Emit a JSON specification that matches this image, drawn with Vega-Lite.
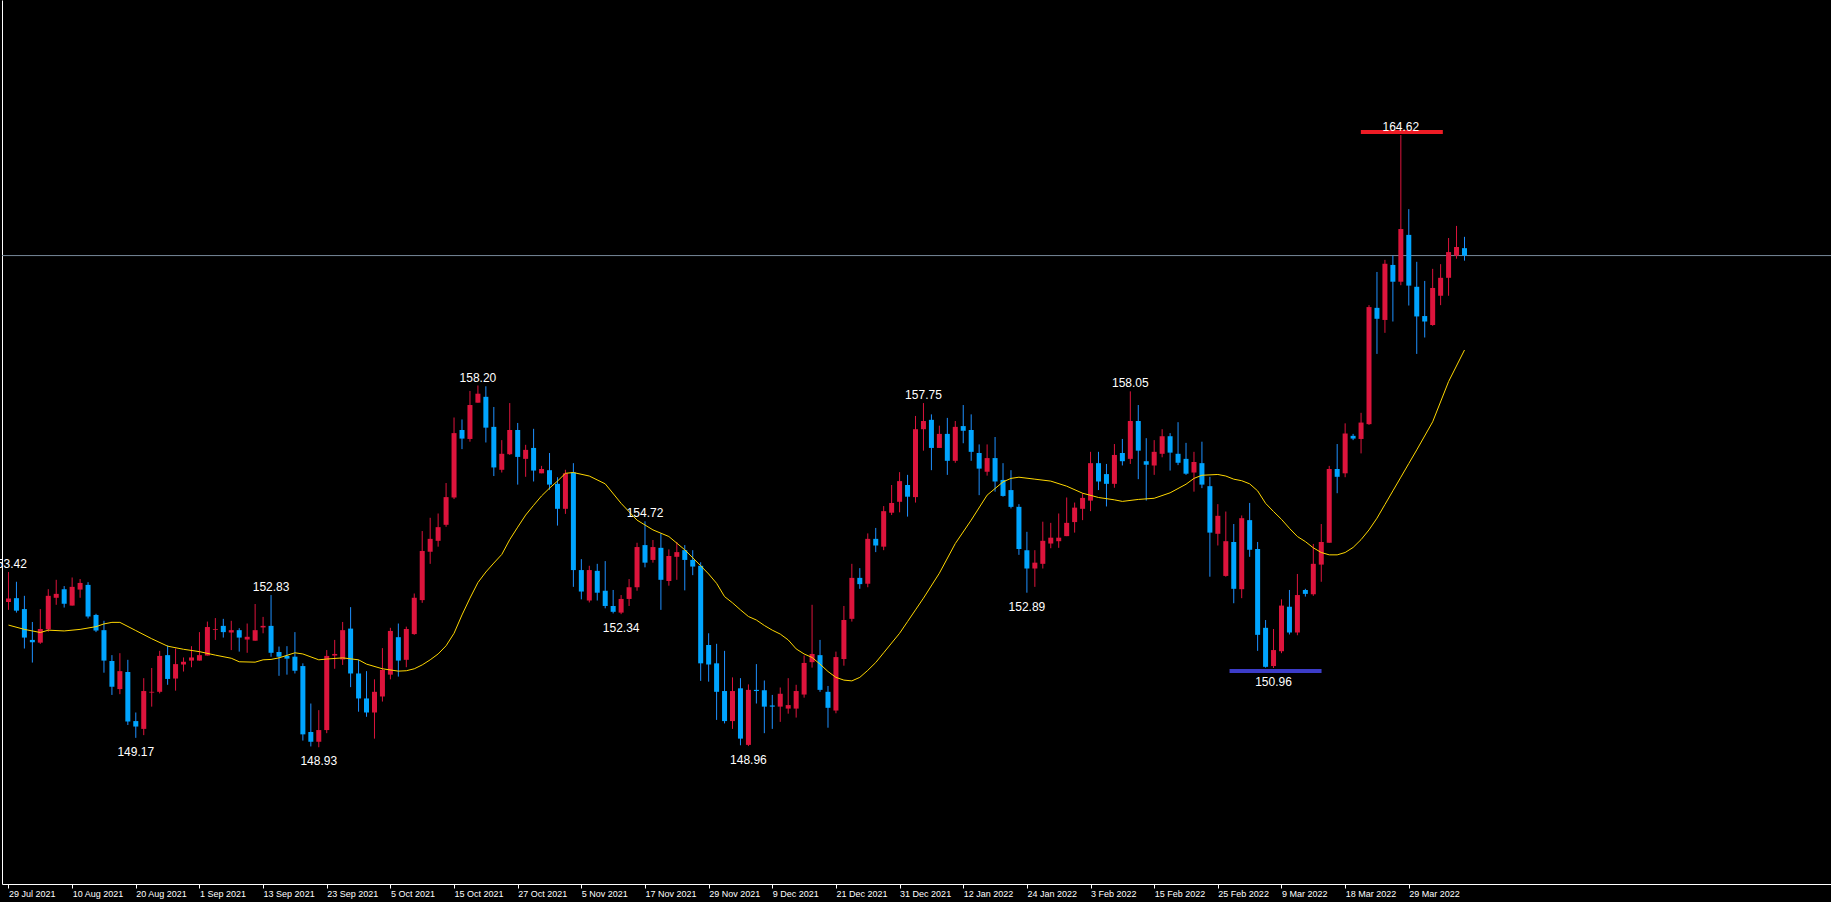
{
"$schema": "https://vega.github.io/schema/vega-lite/v6.json",
"width": 1829, "height": 884, "autosize": {"type": "none"},
"padding": {"left": 2, "top": 0, "right": 0, "bottom": 18},
"background": "#000000",
"config": {"view": {"stroke": null}},
"datasets": {
"candles": [
{"i":0,"o":152.65,"h":153.42,"l":152.45,"c":152.74},
{"i":1,"o":152.75,"h":153.17,"l":152.38,"c":152.43},
{"i":2,"o":152.47,"h":152.81,"l":151.46,"c":151.74},
{"i":3,"o":151.68,"h":152.14,"l":151.10,"c":151.62},
{"i":4,"o":151.61,"h":152.47,"l":151.58,"c":151.96},
{"i":5,"o":151.95,"h":152.98,"l":151.89,"c":152.81},
{"i":6,"o":152.76,"h":153.22,"l":152.58,"c":152.86},
{"i":7,"o":152.98,"h":153.06,"l":152.51,"c":152.61},
{"i":8,"o":152.56,"h":153.28,"l":152.56,"c":153.04},
{"i":9,"o":152.97,"h":153.24,"l":152.76,"c":153.14},
{"i":10,"o":153.09,"h":153.16,"l":152.23,"c":152.28},
{"i":11,"o":152.32,"h":152.35,"l":151.88,"c":151.92},
{"i":12,"o":151.93,"h":152.17,"l":150.84,"c":151.15},
{"i":13,"o":151.14,"h":151.29,"l":150.27,"c":150.48},
{"i":14,"o":150.42,"h":151.34,"l":150.29,"c":150.88},
{"i":15,"o":150.86,"h":151.17,"l":149.50,"c":149.59},
{"i":16,"o":149.60,"h":149.82,"l":149.17,"c":149.46},
{"i":17,"o":149.40,"h":150.70,"l":149.24,"c":150.37},
{"i":18,"o":150.33,"h":150.96,"l":149.97,"c":150.35},
{"i":19,"o":150.35,"h":151.40,"l":150.31,"c":151.27},
{"i":20,"o":151.29,"h":151.54,"l":150.53,"c":150.68},
{"i":21,"o":150.69,"h":151.46,"l":150.38,"c":151.06},
{"i":22,"o":151.05,"h":151.23,"l":150.87,"c":151.12},
{"i":23,"o":151.15,"h":151.52,"l":150.98,"c":151.23},
{"i":24,"o":151.15,"h":151.88,"l":151.15,"c":151.29},
{"i":25,"o":151.28,"h":152.15,"l":151.28,"c":152.01},
{"i":26,"o":151.94,"h":152.24,"l":151.68,"c":151.96},
{"i":27,"o":152.04,"h":152.22,"l":151.74,"c":151.88},
{"i":28,"o":151.87,"h":152.17,"l":151.42,"c":151.93},
{"i":29,"o":151.93,"h":151.98,"l":151.38,"c":151.74},
{"i":30,"o":151.69,"h":152.10,"l":151.35,"c":151.76},
{"i":31,"o":151.66,"h":152.60,"l":151.66,"c":151.93},
{"i":32,"o":152.00,"h":152.27,"l":151.85,"c":152.04},
{"i":33,"o":152.04,"h":152.83,"l":151.25,"c":151.35},
{"i":34,"o":151.37,"h":151.51,"l":150.76,"c":151.25},
{"i":35,"o":151.27,"h":151.52,"l":150.79,"c":151.20},
{"i":36,"o":151.25,"h":151.88,"l":150.82,"c":150.89},
{"i":37,"o":151.01,"h":151.08,"l":149.10,"c":149.26},
{"i":38,"o":149.32,"h":150.05,"l":148.95,"c":149.07},
{"i":39,"o":149.07,"h":149.88,"l":148.93,"c":149.37},
{"i":40,"o":149.37,"h":151.42,"l":149.29,"c":151.27},
{"i":41,"o":151.28,"h":151.68,"l":150.94,"c":151.32},
{"i":42,"o":151.18,"h":152.14,"l":151.04,"c":151.93},
{"i":43,"o":151.97,"h":152.52,"l":150.47,"c":150.82},
{"i":44,"o":150.82,"h":151.17,"l":149.84,"c":150.18},
{"i":45,"o":150.18,"h":150.88,"l":149.71,"c":149.82},
{"i":46,"o":149.82,"h":150.67,"l":149.15,"c":150.35},
{"i":47,"o":150.23,"h":151.47,"l":150.10,"c":150.91},
{"i":48,"o":150.79,"h":151.99,"l":150.67,"c":151.91},
{"i":49,"o":151.75,"h":152.10,"l":150.74,"c":151.15},
{"i":50,"o":151.17,"h":152.02,"l":150.98,"c":151.96},
{"i":51,"o":151.83,"h":152.87,"l":151.81,"c":152.76},
{"i":52,"o":152.70,"h":154.47,"l":152.63,"c":153.96},
{"i":53,"o":153.94,"h":154.81,"l":153.63,"c":154.27},
{"i":54,"o":154.22,"h":154.92,"l":154.07,"c":154.57},
{"i":55,"o":154.63,"h":155.70,"l":154.58,"c":155.34},
{"i":56,"o":155.33,"h":157.38,"l":155.29,"c":156.98},
{"i":57,"o":157.06,"h":157.33,"l":156.57,"c":156.84},
{"i":58,"o":156.83,"h":158.06,"l":156.76,"c":157.70},
{"i":59,"o":157.76,"h":158.20,"l":157.76,"c":157.99},
{"i":60,"o":157.91,"h":158.18,"l":156.74,"c":157.12},
{"i":61,"o":157.14,"h":157.65,"l":155.88,"c":156.10},
{"i":62,"o":156.04,"h":156.80,"l":155.97,"c":156.45},
{"i":63,"o":156.44,"h":157.75,"l":156.42,"c":157.06},
{"i":64,"o":157.06,"h":157.24,"l":155.66,"c":156.37},
{"i":65,"o":156.32,"h":156.68,"l":155.86,"c":156.55},
{"i":66,"o":156.60,"h":157.09,"l":155.74,"c":156.02},
{"i":67,"o":155.95,"h":156.14,"l":155.95,"c":156.06},
{"i":68,"o":156.03,"h":156.47,"l":155.53,"c":155.66},
{"i":69,"o":155.68,"h":155.85,"l":154.61,"c":155.04},
{"i":70,"o":155.04,"h":156.04,"l":154.91,"c":155.95},
{"i":71,"o":155.97,"h":156.21,"l":153.04,"c":153.47},
{"i":72,"o":153.47,"h":153.75,"l":152.72,"c":152.92},
{"i":73,"o":152.69,"h":153.58,"l":152.64,"c":153.47},
{"i":74,"o":153.45,"h":153.63,"l":152.69,"c":152.89},
{"i":75,"o":152.94,"h":153.70,"l":152.49,"c":152.55},
{"i":76,"o":152.55,"h":152.96,"l":152.36,"c":152.40},
{"i":77,"o":152.38,"h":152.83,"l":152.34,"c":152.73},
{"i":78,"o":152.73,"h":153.24,"l":152.55,"c":153.03},
{"i":79,"o":153.03,"h":154.17,"l":152.94,"c":154.06},
{"i":80,"o":154.11,"h":154.72,"l":153.54,"c":153.66},
{"i":81,"o":153.73,"h":154.24,"l":153.66,"c":154.06},
{"i":82,"o":154.04,"h":154.41,"l":152.45,"c":153.22},
{"i":83,"o":153.19,"h":154.00,"l":153.07,"c":153.83},
{"i":84,"o":153.81,"h":154.19,"l":153.22,"c":153.93},
{"i":85,"o":153.98,"h":154.11,"l":152.95,"c":153.73},
{"i":86,"o":153.73,"h":153.98,"l":153.34,"c":153.56},
{"i":87,"o":153.58,"h":153.67,"l":150.63,"c":151.08},
{"i":88,"o":151.55,"h":151.85,"l":150.61,"c":151.05},
{"i":89,"o":151.08,"h":151.58,"l":149.63,"c":150.35},
{"i":90,"o":150.37,"h":151.40,"l":149.54,"c":149.60},
{"i":91,"o":149.60,"h":150.72,"l":149.40,"c":150.37},
{"i":92,"o":150.44,"h":150.70,"l":148.98,"c":149.15},
{"i":93,"o":148.99,"h":150.54,"l":148.96,"c":150.40},
{"i":94,"o":150.40,"h":151.06,"l":150.05,"c":150.37},
{"i":95,"o":150.39,"h":150.64,"l":149.29,"c":149.97},
{"i":96,"o":150.00,"h":150.27,"l":149.40,"c":149.97},
{"i":97,"o":149.97,"h":150.46,"l":149.58,"c":150.30},
{"i":98,"o":149.92,"h":150.70,"l":149.79,"c":150.01},
{"i":99,"o":149.92,"h":150.53,"l":149.69,"c":150.37},
{"i":100,"o":150.28,"h":151.28,"l":150.20,"c":151.09},
{"i":101,"o":151.11,"h":152.58,"l":150.97,"c":151.32},
{"i":102,"o":151.29,"h":151.68,"l":150.35,"c":150.40},
{"i":103,"o":150.35,"h":150.50,"l":149.43,"c":149.94},
{"i":104,"o":149.87,"h":151.38,"l":149.80,"c":151.24},
{"i":105,"o":151.19,"h":152.55,"l":151.02,"c":152.19},
{"i":106,"o":152.22,"h":153.63,"l":152.15,"c":153.27},
{"i":107,"o":153.27,"h":153.52,"l":152.99,"c":153.11},
{"i":108,"o":153.12,"h":154.41,"l":153.03,"c":154.27},
{"i":109,"o":154.27,"h":154.55,"l":153.93,"c":154.10},
{"i":110,"o":154.07,"h":155.11,"l":153.98,"c":154.98},
{"i":111,"o":154.94,"h":155.65,"l":154.88,"c":155.19},
{"i":112,"o":155.22,"h":155.98,"l":154.95,"c":155.75},
{"i":113,"o":155.65,"h":155.91,"l":154.84,"c":155.35},
{"i":114,"o":155.34,"h":157.42,"l":155.20,"c":157.08},
{"i":115,"o":157.08,"h":157.75,"l":156.53,"c":157.29},
{"i":116,"o":157.32,"h":157.46,"l":156.03,"c":156.60},
{"i":117,"o":156.60,"h":157.17,"l":156.60,"c":156.96},
{"i":118,"o":156.96,"h":157.37,"l":155.91,"c":156.27},
{"i":119,"o":156.27,"h":157.29,"l":156.22,"c":157.14},
{"i":120,"o":157.16,"h":157.70,"l":156.72,"c":157.04},
{"i":121,"o":157.06,"h":157.46,"l":156.27,"c":156.50},
{"i":122,"o":156.47,"h":156.69,"l":155.39,"c":156.07},
{"i":123,"o":155.99,"h":156.69,"l":155.89,"c":156.34},
{"i":124,"o":156.34,"h":156.88,"l":155.48,"c":155.74},
{"i":125,"o":155.78,"h":156.21,"l":155.35,"c":155.37},
{"i":126,"o":155.52,"h":156.03,"l":155.05,"c":155.09},
{"i":127,"o":155.09,"h":155.16,"l":153.86,"c":154.01},
{"i":128,"o":153.98,"h":154.45,"l":152.89,"c":153.51},
{"i":129,"o":153.51,"h":153.98,"l":153.04,"c":153.66},
{"i":130,"o":153.63,"h":154.71,"l":153.51,"c":154.22},
{"i":131,"o":154.15,"h":154.68,"l":154.03,"c":154.30},
{"i":132,"o":154.21,"h":154.92,"l":154.04,"c":154.30},
{"i":133,"o":154.34,"h":155.33,"l":154.34,"c":154.68},
{"i":134,"o":154.70,"h":155.20,"l":154.43,"c":155.07},
{"i":135,"o":155.04,"h":155.44,"l":154.75,"c":155.32},
{"i":136,"o":155.25,"h":156.50,"l":154.98,"c":156.21},
{"i":137,"o":156.21,"h":156.50,"l":155.52,"c":155.74},
{"i":138,"o":155.93,"h":156.19,"l":155.10,"c":155.68},
{"i":139,"o":155.68,"h":156.70,"l":155.58,"c":156.42},
{"i":140,"o":156.47,"h":156.83,"l":156.15,"c":156.26},
{"i":141,"o":156.32,"h":158.05,"l":156.19,"c":157.29},
{"i":142,"o":157.29,"h":157.70,"l":155.80,"c":156.53},
{"i":143,"o":156.26,"h":156.85,"l":155.25,"c":156.17},
{"i":144,"o":156.15,"h":156.80,"l":155.91,"c":156.50},
{"i":145,"o":156.45,"h":157.08,"l":156.36,"c":156.90},
{"i":146,"o":156.90,"h":156.98,"l":156.02,"c":156.48},
{"i":147,"o":156.45,"h":157.26,"l":156.16,"c":156.22},
{"i":148,"o":156.32,"h":156.73,"l":155.91,"c":155.94},
{"i":149,"o":155.97,"h":156.50,"l":155.48,"c":156.24},
{"i":150,"o":156.21,"h":156.76,"l":155.57,"c":155.66},
{"i":151,"o":155.62,"h":155.86,"l":153.30,"c":154.43},
{"i":152,"o":154.40,"h":155.16,"l":154.10,"c":154.86},
{"i":153,"o":153.32,"h":154.97,"l":153.30,"c":154.21},
{"i":154,"o":154.19,"h":154.65,"l":152.62,"c":152.99},
{"i":155,"o":152.98,"h":154.87,"l":152.75,"c":154.80},
{"i":156,"o":154.75,"h":155.19,"l":153.81,"c":153.99},
{"i":157,"o":154.01,"h":154.19,"l":151.40,"c":151.81},
{"i":158,"o":151.99,"h":152.19,"l":150.97,"c":150.99},
{"i":159,"o":151.01,"h":151.96,"l":150.96,"c":151.42},
{"i":160,"o":151.39,"h":152.72,"l":151.34,"c":152.56},
{"i":161,"o":152.53,"h":152.96,"l":151.82,"c":151.87},
{"i":162,"o":151.87,"h":153.37,"l":151.80,"c":152.83},
{"i":163,"o":152.96,"h":152.99,"l":152.79,"c":152.86},
{"i":164,"o":152.85,"h":154.14,"l":152.81,"c":153.63},
{"i":165,"o":153.61,"h":154.65,"l":153.17,"c":154.19},
{"i":166,"o":154.17,"h":156.14,"l":154.17,"c":156.06},
{"i":167,"o":156.06,"h":156.70,"l":155.44,"c":155.86},
{"i":168,"o":155.95,"h":157.23,"l":155.85,"c":156.97},
{"i":169,"o":156.91,"h":156.96,"l":156.80,"c":156.84},
{"i":170,"o":156.83,"h":157.50,"l":156.46,"c":157.25},
{"i":171,"o":157.21,"h":160.26,"l":157.19,"c":160.21},
{"i":172,"o":160.19,"h":161.11,"l":159.01,"c":159.91},
{"i":173,"o":159.88,"h":161.42,"l":159.55,"c":161.32},
{"i":174,"o":161.29,"h":161.53,"l":159.84,"c":160.86},
{"i":175,"o":160.86,"h":164.62,"l":160.77,"c":162.21},
{"i":176,"o":162.06,"h":162.72,"l":160.25,"c":160.76},
{"i":177,"o":160.73,"h":161.37,"l":159.01,"c":159.97},
{"i":178,"o":159.98,"h":160.88,"l":159.43,"c":159.84},
{"i":179,"o":159.75,"h":161.19,"l":159.73,"c":160.70},
{"i":180,"o":160.50,"h":161.31,"l":160.26,"c":160.96},
{"i":181,"o":160.96,"h":161.98,"l":160.50,"c":161.62},
{"i":182,"o":161.53,"h":162.29,"l":161.45,"c":161.75},
{"i":183,"o":161.72,"h":162.01,"l":161.40,"c":161.53}
],
"ma": [
{"i":0,"v":152.06},{"i":2,"v":151.95},{"i":4,"v":151.87},{"i":5,"v":151.93},{"i":7,"v":151.91},{"i":9,"v":151.95},{"i":11,"v":152.02},{"i":12,"v":152.09},{"i":13,"v":152.13},{"i":14,"v":152.13},{"i":16,"v":151.92},{"i":18,"v":151.71},{"i":20,"v":151.52},{"i":22,"v":151.44},{"i":24,"v":151.38},{"i":26,"v":151.29},{"i":28,"v":151.21},{"i":29,"v":151.12},{"i":31,"v":151.11},{"i":32,"v":151.17},{"i":33,"v":151.18},{"i":34,"v":151.22},{"i":36,"v":151.35},{"i":37,"v":151.32},{"i":39,"v":151.17},{"i":40,"v":151.19},{"i":42,"v":151.22},{"i":44,"v":151.17},{"i":45,"v":151.06},{"i":47,"v":150.94},{"i":49,"v":150.88},{"i":50,"v":150.89},{"i":51,"v":150.94},{"i":52,"v":151.04},{"i":53,"v":151.17},{"i":54,"v":151.32},{"i":55,"v":151.53},{"i":56,"v":151.85},{"i":57,"v":152.32},{"i":58,"v":152.75},{"i":59,"v":153.15},{"i":60,"v":153.42},{"i":61,"v":153.65},{"i":62,"v":153.87},{"i":63,"v":154.25},{"i":64,"v":154.57},{"i":65,"v":154.88},{"i":66,"v":155.13},{"i":67,"v":155.37},{"i":68,"v":155.57},{"i":69,"v":155.75},{"i":70,"v":155.95},{"i":71,"v":155.97},{"i":73,"v":155.88},{"i":75,"v":155.68},{"i":77,"v":155.18},{"i":79,"v":154.75},{"i":81,"v":154.50},{"i":83,"v":154.33},{"i":85,"v":153.99},{"i":87,"v":153.58},{"i":88,"v":153.37},{"i":89,"v":153.13},{"i":90,"v":152.79},{"i":91,"v":152.63},{"i":92,"v":152.45},{"i":93,"v":152.28},{"i":94,"v":152.19},{"i":95,"v":152.05},{"i":96,"v":151.93},{"i":97,"v":151.83},{"i":98,"v":151.68},{"i":99,"v":151.45},{"i":100,"v":151.32},{"i":101,"v":151.23},{"i":102,"v":151.06},{"i":103,"v":150.87},{"i":104,"v":150.72},{"i":105,"v":150.65},{"i":106,"v":150.63},{"i":107,"v":150.72},{"i":108,"v":150.90},{"i":109,"v":151.10},{"i":110,"v":151.35},{"i":111,"v":151.60},{"i":112,"v":151.85},{"i":113,"v":152.15},{"i":114,"v":152.45},{"i":115,"v":152.75},{"i":117,"v":153.39},{"i":119,"v":154.15},{"i":121,"v":154.75},{"i":123,"v":155.39},{"i":124,"v":155.56},{"i":125,"v":155.73},{"i":126,"v":155.82},{"i":127,"v":155.85},{"i":129,"v":155.80},{"i":131,"v":155.75},{"i":133,"v":155.62},{"i":135,"v":155.44},{"i":137,"v":155.33},{"i":139,"v":155.27},{"i":140,"v":155.23},{"i":142,"v":155.28},{"i":144,"v":155.31},{"i":146,"v":155.45},{"i":148,"v":155.67},{"i":149,"v":155.82},{"i":150,"v":155.90},{"i":152,"v":155.92},{"i":153,"v":155.88},{"i":154,"v":155.80},{"i":155,"v":155.76},{"i":156,"v":155.68},{"i":157,"v":155.50},{"i":158,"v":155.18},{"i":159,"v":154.97},{"i":160,"v":154.77},{"i":161,"v":154.54},{"i":162,"v":154.33},{"i":163,"v":154.20},{"i":164,"v":154.04},{"i":165,"v":153.92},{"i":166,"v":153.86},{"i":167,"v":153.86},{"i":168,"v":153.92},{"i":169,"v":154.05},{"i":170,"v":154.25},{"i":171,"v":154.50},{"i":172,"v":154.80},{"i":173,"v":155.15},{"i":174,"v":155.50},{"i":175,"v":155.85},{"i":176,"v":156.20},{"i":177,"v":156.55},{"i":179,"v":157.27},{"i":181,"v":158.30},{"i":183,"v":159.11}
],
"labels": [
{"i":0,"v":153.42,"k":"high","t":"153.42"},
{"i":33,"v":152.83,"k":"high","t":"152.83"},
{"i":59,"v":158.20,"k":"high","t":"158.20"},
{"i":80,"v":154.72,"k":"high","t":"154.72"},
{"i":115,"v":157.75,"k":"high","t":"157.75"},
{"i":141,"v":158.05,"k":"high","t":"158.05"},
{"i":175,"v":164.62,"k":"high","t":"164.62"},
{"i":16,"v":149.17,"k":"low","t":"149.17"},
{"i":39,"v":148.93,"k":"low","t":"148.93"},
{"i":77,"v":152.34,"k":"low","t":"152.34"},
{"i":93,"v":148.96,"k":"low","t":"148.96"},
{"i":128,"v":152.89,"k":"low","t":"152.89"},
{"i":159,"v":150.96,"k":"low","t":"150.96"}
]
},
"layer": [
{
"data": {"values": [{"bid": 161.53}]},
"mark": {"type": "rule", "color": "#778899", "strokeWidth": 1, "opacity": 1},
"encoding": {"y": {"field": "bid", "type": "quantitative", "scale": {"domain": [145.4247, 168.0798], "nice": false, "zero": false}, "axis": {"orient": "left", "domain": true, "domainColor": "#ffffff", "domainWidth": 1, "ticks": false, "labels": false, "grid": false, "title": null}}}
},
{
"data": {"name": "candles"},
"mark": {"type": "rule", "strokeWidth": 1, "opacity": 1},
"encoding": {
"x": {"field": "i", "type": "quantitative", "scale": {"domain": [-0.1875, 228.4375], "nice": false, "zero": false},
 "axis": {"values": [0,8,16,24,32,40,48,56,64,72,80,88,96,104,112,120,128,136,144,152,160,168,176],
  "labelExpr": "['29 Jul 2021','10 Aug 2021','20 Aug 2021','1 Sep 2021','13 Sep 2021','23 Sep 2021','5 Oct 2021','15 Oct 2021','27 Oct 2021','5 Nov 2021','17 Nov 2021','29 Nov 2021','9 Dec 2021','21 Dec 2021','31 Dec 2021','12 Jan 2022','24 Jan 2022','3 Feb 2022','15 Feb 2022','25 Feb 2022','9 Mar 2022','18 Mar 2022','29 Mar 2022'][round(datum.value / 8)]",
  "labelAlign": "left", "labelBaseline": "top", "labelPadding": 1, "labelOffset": 0, "labelFont": "Liberation Sans", "labelFontSize": 9, "labelColor": "#ffffff",
  "labelOverlap": false, "labelFlush": false, "labelBound": false,
  "domainColor": "#ffffff", "domainWidth": 1, "tickColor": "#ffffff", "tickSize": 4, "tickWidth": 1, "grid": false, "title": null}},
"y": {"field": "l", "type": "quantitative", "scale": {"domain": [145.4247, 168.0798], "nice": false, "zero": false}},
"y2": {"field": "h"},
"color": {"condition": {"test": "datum.c >= datum.o", "value": "#DC143C"}, "value": "#1E90FF"}
}
},
{
"data": {"name": "candles"},
"mark": {"type": "bar", "size": 5, "opacity": 1},
"encoding": {
"x": {"field": "i", "type": "quantitative"},
"y": {"field": "o", "type": "quantitative"},
"y2": {"field": "c"},
"color": {"condition": {"test": "datum.c >= datum.o", "value": "#DC143C"}, "value": "#00A5FF"}
}
},
{
"data": {"name": "ma"},
"mark": {"type": "line", "color": "#FFD700", "strokeWidth": 1, "opacity": 1},
"encoding": {"x": {"field": "i", "type": "quantitative"}, "y": {"field": "v", "type": "quantitative"}}
},
{
"data": {"values": [{"i": 175, "v": 164.62}]},
"mark": {"type": "tick", "orient": "horizontal", "size": 82, "thickness": 4, "color": "#EE1C25", "opacity": 1, "yOffset": -3, "xOffset": 1},
"encoding": {"x": {"field": "i", "type": "quantitative"}, "y": {"field": "v", "type": "quantitative"}}
},
{
"data": {"values": [{"i": 159, "v": 150.96}]},
"mark": {"type": "tick", "orient": "horizontal", "size": 92, "thickness": 4, "color": "#3C3CC8", "opacity": 1, "yOffset": 3, "xOffset": 2},
"encoding": {"x": {"field": "i", "type": "quantitative"}, "y": {"field": "v", "type": "quantitative"}}
},
{
"data": {"name": "labels"},
"transform": [{"filter": "datum.k == 'high'"}],
"mark": {"type": "text", "font": "Liberation Sans", "fontSize": 12, "color": "#ffffff", "baseline": "middle", "align": "center", "dy": -8},
"encoding": {"x": {"field": "i", "type": "quantitative"}, "y": {"field": "v", "type": "quantitative"}, "text": {"field": "t"}}
},
{
"data": {"name": "labels"},
"transform": [{"filter": "datum.k == 'low'"}],
"mark": {"type": "text", "font": "Liberation Sans", "fontSize": 12, "color": "#ffffff", "baseline": "middle", "align": "center", "dy": 14},
"encoding": {"x": {"field": "i", "type": "quantitative"}, "y": {"field": "v", "type": "quantitative"}, "text": {"field": "t"}}
}
]
}
